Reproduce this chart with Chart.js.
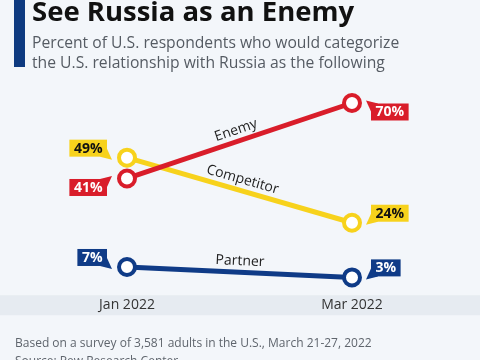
<!DOCTYPE html>
<html>
<head>
<meta charset="utf-8">
<script src="https://cdn.jsdelivr.net/npm/chart.js@4"></script>
<style>
  html, body { margin: 0; padding: 0; }
  body { width: 480px; height: 360px; background: #f3f6fa; position: relative; overflow: hidden; font-family: "Open Sans", sans-serif; }
  #bar { position: absolute; left: 14px; top: 0; width: 11px; height: 67px; background: #0e3a80; }
  #title { position: absolute; left: 32px; top: -4px; font-size: 27.5px; line-height: 30px; font-weight: bold; color: #111; white-space: nowrap; }
  #subtitle { position: absolute; left: 32px; top: 32px; font-size: 15.7px; line-height: 20px; color: #555b63; white-space: nowrap; }
  #footer { position: absolute; left: 15px; top: 334px; font-size: 12px; line-height: 18px; color: #5f656d; white-space: nowrap; }
  #chartBox { position: absolute; left: 0; top: 0; width: 480px; height: 360px; }
</style>
</head>
<body>
<div id="chartBox"><canvas id="trafficCanvas" width="480" height="360"></canvas></div>
<div id="bar"></div>
<div id="title">See Russia as an Enemy</div>
<div id="subtitle">Percent of U.S. respondents who would categorize<br>the U.S. relationship with Russia as the following</div>
<div id="footer">Based on a survey of 3,581 adults in the U.S., March 21-27, 2022<br>Source: Pew Research Center</div>
<script>
/* Data */
const months = ["Jan 2022", "Mar 2022"];
const enemy = [41, 70];
const competitor = [49, 24];
const partner = [7, 3];
const seriesNames = ["Enemy", "Competitor", "Partner"];

const colors = ["#d91d2a", "#f7d21c", "#0f3b87"];
// value box goes below the point (true) or above it (false)
const boxBelow = [true, false, false];

/* gray band behind the month labels */
const bandPlugin = {
  id: 'band',
  beforeDraw(chart) {
    const ctx = chart.ctx;
    const top = chart.chartArea.bottom + 10;
    ctx.save();
    ctx.fillStyle = '#e6ebf1';
    ctx.fillRect(0, top, chart.width, 20);
    ctx.restore();
  }
};

/* series names along the lines + value boxes */
const labelPlugin = {
  id: 'labels',
  afterDatasetsDraw(chart) {
    const ctx = chart.ctx;
    ctx.save();
    chart.data.datasets.forEach((ds, i) => {
      const pts = chart.getDatasetMeta(i).data;
      // name on the line
      const a = pts[0], b = pts[1];
      const angle = Math.atan2(b.y - a.y, b.x - a.x);
      ctx.save();
      ctx.translate((a.x + b.x) / 2, (a.y + b.y) / 2);
      ctx.rotate(angle);
      ctx.font = '14px "Open Sans"';
      ctx.fillStyle = '#222';
      ctx.textAlign = 'center';
      ctx.textBaseline = 'alphabetic';
      ctx.fillText(ds.label, 0, -7);
      ctx.restore();

      // value boxes
      pts.forEach((pt, j) => {
        const text = ds.data[j] + '%';
        ctx.font = 'bold 14px "Open Sans"';
        const w = ctx.measureText(text).width + 9;
        const h = 17;
        const onLeft = j === 0;
        const below = boxBelow[i];
        const x = onLeft ? pt.x - 20 - w : pt.x + 19;
        const y = below ? pt.y + 0.5 : pt.y - 1 - h;
        ctx.fillStyle = ds.borderColor;
        ctx.fillRect(x, y, w, h);
        // little tail pointing at the marker
        const ex = onLeft ? x + w : x;
        const cy = below ? y : y + h;
        const dir = onLeft ? 1 : -1;
        const vdir = below ? -1 : 1;
        ctx.beginPath();
        ctx.moveTo(ex, cy - vdir * 8);
        ctx.lineTo(ex + dir * 5, cy + vdir * 3);
        ctx.lineTo(ex - dir * 7, cy);
        ctx.closePath();
        ctx.fill();
        ctx.fillStyle = i === 1 ? '#111' : '#fff';
        ctx.textAlign = 'center';
        ctx.textBaseline = 'middle';
        ctx.fillText(text, x + w / 2, y + h / 2 + 0.5);
      });
    });
    ctx.restore();
  }
};

const seriesData = [enemy, competitor, partner];

let russiaChart = new Chart(document.getElementById('trafficCanvas'), {
  type: 'line',
  data: {
    labels: months,
    datasets: seriesData.map((d, i) => ({
      label: seriesNames[i],
      data: d,
      borderColor: colors[i],
      backgroundColor: colors[i],
      borderWidth: 5,
      pointRadius: 8,
      pointBorderWidth: 4,
      pointBackgroundColor: '#fff',
      pointBorderColor: colors[i],
      clip: false
    }))
  },
  options: {
    responsive: false,
    animation: { duration: 0 },
    layout: {
      padding: { left: 127, right: 128, top: 103, bottom: 36 }
    },
    scales: {
      x: {
        offset: false,
        grid: { display: false, drawTicks: false },
        border: { display: false },
        ticks: {
          padding: 11,
          color: '#333',
          font: { family: 'Open Sans', size: 14 }
        }
      },
      y: {
        display: false,
        min: 0,
        max: 70
      }
    },
    plugins: {
      legend: { display: false },
      tooltip: { enabled: false }
    }
  },
  plugins: [bandPlugin, labelPlugin]
});
</script>
</body>
</html>
